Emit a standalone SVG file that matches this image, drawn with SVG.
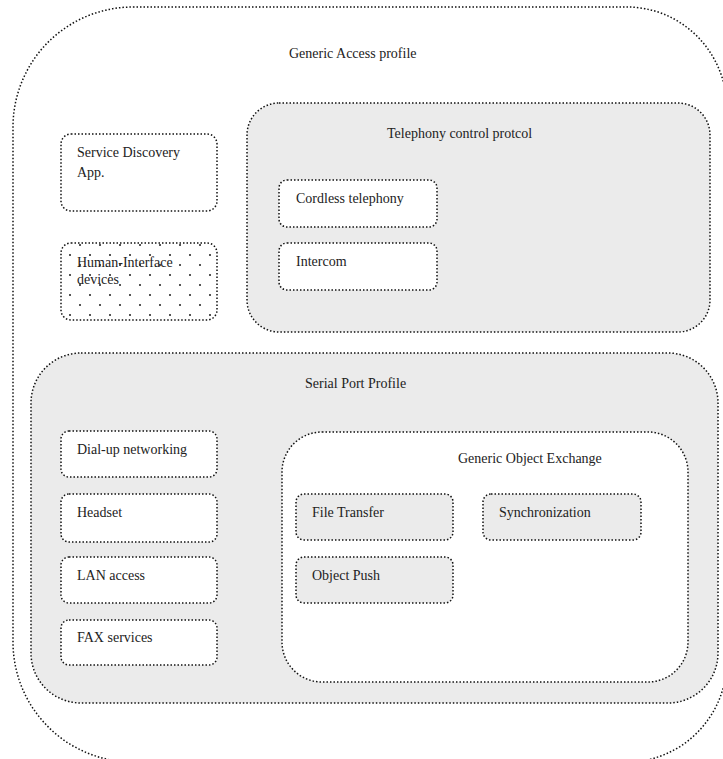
<svg xmlns="http://www.w3.org/2000/svg" width="723" height="759" viewBox="0 0 723 759">
  <style>
    .dot { stroke: #111; stroke-width: 1.5; stroke-dasharray: 1.5 2; }
    .white { fill: #ffffff; }
    .grey { fill: #ebebeb; }
    text { font-family: "Liberation Serif", "Times New Roman", serif; font-size: 14px; fill: #222; }
  </style>
  <defs>
    <pattern id="dots" patternUnits="userSpaceOnUse" x="65" y="250" width="20" height="20">
      <rect width="20" height="20" fill="#ffffff"/>
      <rect x="4" y="4" width="2" height="2" fill="#555"/>
      <rect x="14" y="14" width="2" height="2" fill="#555"/>
    </pattern>
  </defs>

  <!-- outer profile -->
  <g id="generic-access">
    <path class="dot white" d="M133,7 H627 A100,102 0 0 1 727,109 V660 A100,102 0 0 1 627,762 H133 A120,120 0 0 1 13,642 V127 A120,120 0 0 1 133,7 Z"/>
    <text x="289" y="58">Generic Access profile</text>
  </g>

  <g id="service-discovery">
    <rect class="dot white" x="61" y="134" width="156" height="77" rx="10"/>
    <text x="77" y="157">Service Discovery</text>
    <text x="77" y="177">App.</text>
  </g>

  <g id="human-interface">
    <rect class="dot" fill="url(#dots)" x="61" y="243" width="156" height="77" rx="10"/>
    <text x="77" y="267">Human-Interface</text>
    <text x="77" y="284">devices</text>
  </g>

  <g id="telephony">
    <rect class="dot grey" x="247" y="103" width="463" height="229" rx="32"/>
    <text x="387" y="138">Telephony control protcol</text>
  </g>
  <g id="cordless">
    <rect class="dot white" x="279" y="180" width="158" height="47" rx="8"/>
    <text x="296" y="203">Cordless telephony</text>
  </g>
  <g id="intercom">
    <rect class="dot white" x="279" y="243" width="158" height="47" rx="8"/>
    <text x="296" y="266">Intercom</text>
  </g>

  <g id="serial-port">
    <rect class="dot grey" x="31" y="353" width="687" height="350" rx="50"/>
    <text x="305" y="388">Serial Port Profile</text>
  </g>
  <g id="dialup">
    <rect class="dot white" x="61" y="431" width="156" height="46" rx="8"/>
    <text x="77" y="454">Dial-up networking</text>
  </g>
  <g id="headset">
    <rect class="dot white" x="61" y="494" width="156" height="48" rx="8"/>
    <text x="77" y="517">Headset</text>
  </g>
  <g id="lan">
    <rect class="dot white" x="61" y="557" width="156" height="46" rx="8"/>
    <text x="77" y="580">LAN access</text>
  </g>
  <g id="fax">
    <rect class="dot white" x="61" y="620" width="156" height="45" rx="8"/>
    <text x="77" y="642">FAX services</text>
  </g>

  <g id="object-exchange">
    <rect class="dot white" x="282" y="432" width="406" height="250" rx="40"/>
    <text x="458" y="463">Generic Object Exchange</text>
  </g>
  <g id="file-transfer">
    <rect class="dot grey" x="296" y="494" width="157" height="46" rx="8"/>
    <text x="312" y="517">File Transfer</text>
  </g>
  <g id="synchronization">
    <rect class="dot grey" x="483" y="494" width="158" height="46" rx="8"/>
    <text x="499" y="517">Synchronization</text>
  </g>
  <g id="object-push">
    <rect class="dot grey" x="296" y="557" width="157" height="46" rx="8"/>
    <text x="312" y="580">Object Push</text>
  </g>

  <g id="connectors"/>
</svg>
